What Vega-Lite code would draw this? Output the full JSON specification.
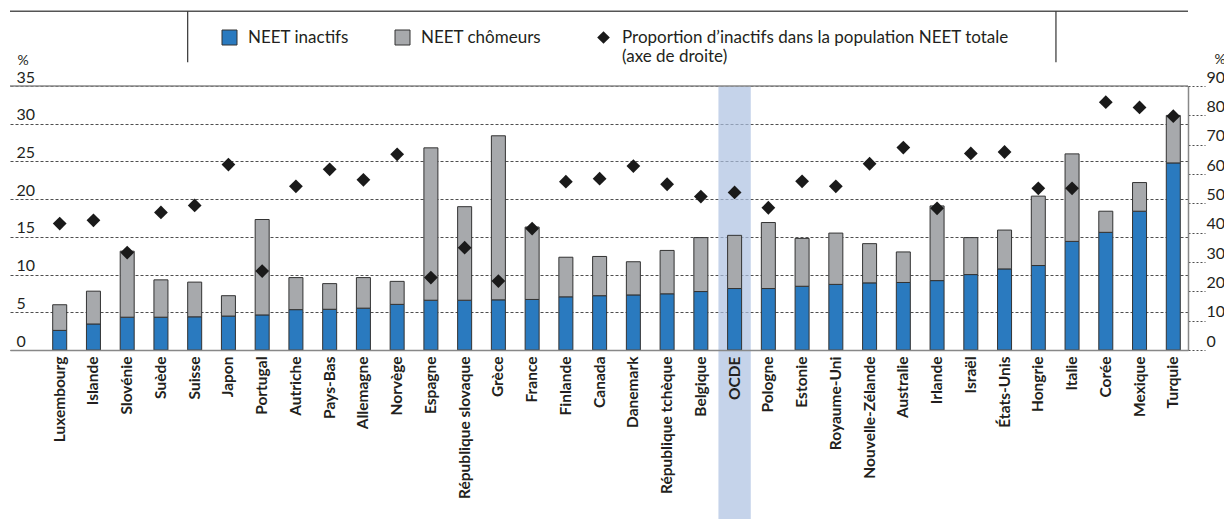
{
  "$schema": "https://vega.github.io/schema/vega-lite/v6.json",
  "width": 1178,
  "height": 264,
  "autosize": {"type": "none"},
  "padding": {"left": 10, "top": 86, "right": 36, "bottom": 169},
  "config": {
    "font": "Lato",
    "view": {"stroke": null},
    "axisLeft": {
      "tickCount": 7, "grid": true, "gridDash": [3, 2],
      "gridColor": "#222222", "gridWidth": 0.8, "domain": false, "ticks": false,
      "labelAlign": "left", "labelBaseline": "alphabetic", "labelPadding": -6,
      "labelOffset": -4, "labelFontSize": 16, "labelColor": "#231f20", "labelOverlap": false,
      "titleAngle": 0, "titleX": 7, "titleY": -22, "titleAlign": "left",
      "titleBaseline": "alphabetic", "titleFontWeight": "normal", "titleFontSize": 14,
      "titleColor": "#231f20"
    },
    "axisRight": {
      "tickCount": 10, "grid": false,
      "domainColor": "#888888", "domainWidth": 1.5, "tickColor": "#222222", "tickDash": [2, 2],
      "tickSize": 17, "tickWidth": 0.8, "labelAlign": "left", "labelBaseline": "alphabetic",
      "labelPadding": 1, "labelOffset": -4, "labelFontSize": 16, "labelColor": "#231f20",
      "labelOverlap": false, "titleAngle": 0, "titleX": 26, "titleY": -23,
      "titleAlign": "left", "titleBaseline": "alphabetic", "titleFontWeight": "normal",
      "titleFontSize": 14, "titleColor": "#231f20"
    }
  },
  "data": {
    "values": [
      {"pays": "Luxembourg", "inactifs": 2.6, "chomeurs": 3.4, "proportion": 43.1},
      {"pays": "Islande", "inactifs": 3.45, "chomeurs": 4.35, "proportion": 44.2},
      {"pays": "Slovénie", "inactifs": 4.35, "chomeurs": 8.75, "proportion": 33.2},
      {"pays": "Suède", "inactifs": 4.35, "chomeurs": 4.95, "proportion": 46.9},
      {"pays": "Suisse", "inactifs": 4.4, "chomeurs": 4.6, "proportion": 49.3},
      {"pays": "Japon", "inactifs": 4.5, "chomeurs": 2.7, "proportion": 63.2},
      {"pays": "Portugal", "inactifs": 4.65, "chomeurs": 12.65, "proportion": 26.9},
      {"pays": "Autriche", "inactifs": 5.35, "chomeurs": 4.25, "proportion": 55.8},
      {"pays": "Pays-Bas", "inactifs": 5.4, "chomeurs": 3.4, "proportion": 61.6},
      {"pays": "Allemagne", "inactifs": 5.55, "chomeurs": 4.05, "proportion": 58.0},
      {"pays": "Norvège", "inactifs": 6.05, "chomeurs": 3.05, "proportion": 66.7},
      {"pays": "Espagne", "inactifs": 6.6, "chomeurs": 20.2, "proportion": 24.7},
      {"pays": "République slovaque", "inactifs": 6.6, "chomeurs": 12.4, "proportion": 34.9},
      {"pays": "Grèce", "inactifs": 6.65, "chomeurs": 21.75, "proportion": 23.5},
      {"pays": "France", "inactifs": 6.7, "chomeurs": 9.6, "proportion": 41.4},
      {"pays": "Finlande", "inactifs": 7.05, "chomeurs": 5.25, "proportion": 57.4},
      {"pays": "Canada", "inactifs": 7.2, "chomeurs": 5.2, "proportion": 58.4},
      {"pays": "Danemark", "inactifs": 7.3, "chomeurs": 4.4, "proportion": 62.7},
      {"pays": "République tchèque", "inactifs": 7.45, "chomeurs": 5.75, "proportion": 56.5},
      {"pays": "Belgique", "inactifs": 7.75, "chomeurs": 7.15, "proportion": 52.3},
      {"pays": "OCDE", "inactifs": 8.15, "chomeurs": 7.05, "proportion": 53.7},
      {"pays": "Pologne", "inactifs": 8.15, "chomeurs": 8.75, "proportion": 48.5},
      {"pays": "Estonie", "inactifs": 8.45, "chomeurs": 6.35, "proportion": 57.5},
      {"pays": "Royaume-Uni", "inactifs": 8.7, "chomeurs": 6.8, "proportion": 55.8},
      {"pays": "Nouvelle-Zélande", "inactifs": 8.9, "chomeurs": 5.2, "proportion": 63.5},
      {"pays": "Australie", "inactifs": 8.95, "chomeurs": 4.05, "proportion": 69.0},
      {"pays": "Irlande", "inactifs": 9.2, "chomeurs": 9.9, "proportion": 48.3},
      {"pays": "Israël", "inactifs": 10.0, "chomeurs": 4.9, "proportion": 67.0},
      {"pays": "États-Unis", "inactifs": 10.75, "chomeurs": 5.15, "proportion": 67.5},
      {"pays": "Hongrie", "inactifs": 11.2, "chomeurs": 9.2, "proportion": 55.1},
      {"pays": "Italie", "inactifs": 14.4, "chomeurs": 11.6, "proportion": 55.1},
      {"pays": "Corée", "inactifs": 15.6, "chomeurs": 2.8, "proportion": 84.5},
      {"pays": "Mexique", "inactifs": 18.4, "chomeurs": 3.8, "proportion": 82.7},
      {"pays": "Turquie", "inactifs": 24.8, "chomeurs": 6.3, "proportion": 79.7}
    ]
  },
  "layer": [
    {
      "layer": [
        {
          "data": {"values": [{}]},
          "mark": {"type": "bar", "color": "#acc0e1", "opacity": 0.7, "width": {"band": 2.31}},
          "encoding": {
            "x": {"datum": "OCDE", "type": "nominal"},
            "y": {
              "datum": 35, "type": "quantitative", "scale": {"domain": [0, 35], "nice": false},
              "axis": {"title": "%"}
            },
            "y2": {"datum": -22.4}
          }
        },
        {
          "transform": [{"fold": ["inactifs", "chomeurs"], "as": ["type", "value"]}],
          "mark": {"type": "bar", "stroke": "#333333", "strokeWidth": 1},
          "encoding": {
            "x": {
              "field": "pays", "type": "nominal", "sort": null,
              "scale": {
                "domain": ["Luxembourg", "Islande", "Slovénie", "Suède", "Suisse", "Japon", "Portugal", "Autriche", "Pays-Bas", "Allemagne", "Norvège", "Espagne", "République slovaque", "Grèce", "France", "Finlande", "Canada", "Danemark", "République tchèque", "Belgique", "OCDE", "Pologne", "Estonie", "Royaume-Uni", "Nouvelle-Zélande", "Australie", "Irlande", "Israël", "États-Unis", "Hongrie", "Italie", "Corée", "Mexique", "Turquie"],
                "paddingInner": 0.585, "paddingOuter": 0.747, "align": 0.847
              },
              "axis": {
                "title": null, "labelAngle": -90, "labelFontSize": 15.5, "labelFontWeight": "bold",
                "labelColor": "#231f20", "labelPadding": 6, "ticks": false, "domainColor": "#888888",
                "domainWidth": 1.5, "zindex": 1, "labelLimit": 300
              }
            },
            "y": {
              "field": "value", "type": "quantitative", "stack": "zero",
              "scale": {"domain": [0, 35], "nice": false},
              "axis": {"title": "%"}
            },
            "color": {
              "field": "type", "type": "nominal",
              "scale": {"domain": ["inactifs", "chomeurs"], "range": ["#2a7abf", "#a7a9ac"]},
              "legend": {
                "orient": "none", "legendX": 211, "legendY": -57, "direction": "horizontal",
                "title": null,
                "labelExpr": "datum.label == 'inactifs' ? 'NEET inactifs' : 'NEET chômeurs'",
                "labelFontSize": 17, "labelColor": "#231f20", "labelOffset": 10,
                "symbolType": "square", "symbolSize": 225, "symbolStrokeColor": "#333333",
                "symbolStrokeWidth": 1, "columnPadding": 44, "padding": 0
              }
            },
            "order": {"field": "type", "sort": "descending"}
          }
        },
        {
          "data": {"values": [{}]},
          "mark": {"type": "rule", "color": "#888888", "strokeWidth": 1.5},
          "encoding": {
            "y": {
              "datum": 35, "type": "quantitative", "scale": {"domain": [0, 35], "nice": false},
              "axis": {"title": "%"}
            }
          }
        },
        {
          "data": {"values": [{}]},
          "mark": {"type": "rule", "color": "#555555", "strokeWidth": 1.5},
          "encoding": {
            "y": {
              "datum": 44.9, "type": "quantitative", "scale": {"domain": [0, 35], "nice": false},
              "axis": {"title": "%"}
            }
          }
        },
        {
          "data": {"values": [{}]},
          "mark": {"type": "rule", "color": "#333333", "strokeWidth": 1.2},
          "encoding": {
            "x": {"datum": "Suisse", "type": "nominal", "bandPosition": 0},
            "y": {
              "datum": 44.9, "type": "quantitative", "scale": {"domain": [0, 35], "nice": false},
              "axis": {"title": "%"}
            },
            "y2": {"datum": 38.14}
          }
        },
        {
          "data": {"values": [{}]},
          "mark": {"type": "rule", "color": "#333333", "strokeWidth": 1.2},
          "encoding": {
            "x": {"datum": "Hongrie", "type": "nominal", "bandPosition": 1.76},
            "y": {
              "datum": 44.9, "type": "quantitative", "scale": {"domain": [0, 35], "nice": false},
              "axis": {"title": "%"}
            },
            "y2": {"datum": 38.14}
          }
        }
      ]
    },
    {
      "mark": {"type": "point", "filled": true, "color": "#1a1a1a", "size": 190, "opacity": 1},
      "encoding": {
        "x": {"field": "pays", "type": "nominal", "sort": null},
        "y": {
          "field": "proportion", "type": "quantitative",
          "scale": {"domain": [0, 90], "nice": false},
          "axis": {"orient": "right", "title": "%"}
        },
        "shape": {
          "datum": "Proportion d’inactifs dans la population NEET totale|(axe de droite)",
          "type": "nominal",
          "scale": {"range": ["diamond"]},
          "legend": {
            "orient": "none", "legendX": 585, "legendY": -57, "title": null,
            "labelExpr": "split(datum.label, '|')", "labelFontSize": 17, "labelColor": "#231f20",
            "labelOffset": 10, "symbolFillColor": "#1a1a1a", "symbolStrokeWidth": 0,
            "symbolSize": 160, "padding": 0, "labelLimit": 600
          }
        }
      }
    }
  ],
  "resolve": {"scale": {"y": "independent"}}
}
